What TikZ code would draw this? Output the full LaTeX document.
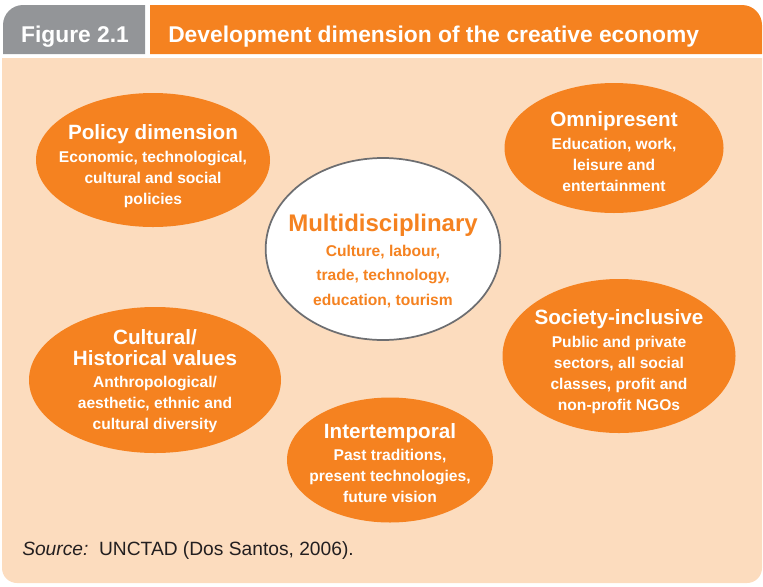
\documentclass[tikz,border=0pt]{standalone}
\usepackage{fontspec}
\setmainfont{Liberation Sans}
\usetikzlibrary{shapes.geometric}
\definecolor{unctadorange}{RGB}{245,130,32}
\definecolor{panelpeach}{RGB}{252,220,190}
\definecolor{tabgrey}{RGB}{147,149,152}
\definecolor{rimgrey}{RGB}{109,110,113}
\definecolor{sourceink}{RGB}{35,31,32}
\newcommand{\bubbletitle}{\fontsize{15.5}{15}\selectfont}
\newcommand{\bubblebody}{\fontsize{11.7}{15.75}\selectfont}
\tikzset{
  headtext/.style = {text=white, inner sep=0pt,
    font=\fontsize{17.1}{20}\selectfont\bfseries},
  bubble/.style = {ellipse, fill=unctadorange, inner sep=0pt},
  bubbletext/.style = {align=center, inner sep=0pt, text=white,
    font=\bubblebody\bfseries}}

\begin{document}
\begin{tikzpicture}[x=0.75pt, y=-0.75pt]
\useasboundingbox (0,0) rectangle (763,586);
% header tabs and panel
\fill[tabgrey] (3,54) -- (3,25) arc[start angle=180, end angle=270, radius=20]
  -- (145,5) -- (145,54) -- cycle;
\fill[unctadorange] (150,54) -- (150,5) -- (742,5)
  arc[start angle=270, end angle=360, radius=20] -- (762,54) -- cycle;
\fill[panelpeach] (2,58) -- (762,58) -- (762,568)
  arc[start angle=0, end angle=90, radius=15] -- (17,583)
  arc[start angle=90, end angle=180, radius=15] -- cycle;

\node[headtext] (fignum) at (75,37) {Figure 2.1};
\node[headtext, anchor=west] (figtitle) at (168,37)
  {Development dimension of the creative economy};

% bubbles
\node[bubble, minimum width=175.5pt, minimum height=100.5pt] (policy) at (153,160) {};
\node[bubble, minimum width=164.25pt, minimum height=97.5pt] (omni) at (614,148) {};
\node[bubble, fill=white, draw=rimgrey, line width=1.3pt,
  minimum width=176pt, minimum height=136.5pt] (multi) at (383,249) {};
\node[bubble, minimum width=174.75pt, minimum height=115.5pt] (society) at (619,356) {};
\node[bubble, minimum width=189pt, minimum height=109.5pt] (cultural) at (155,380) {};
\node[bubble, minimum width=154.5pt, minimum height=93.75pt] (intertemp) at (390,460) {};

\node[bubbletext, yshift=-4.5pt] (policy text) at (policy)
  {{\bubbletitle Policy dimension}\\[1.5pt]Economic, technological,\\cultural and social\\policies};
\node[bubbletext, yshift=-3pt] (omni text) at (omni)
  {{\bubbletitle Omnipresent}\\[1.5pt]Education, work,\\leisure and\\entertainment};
\node[bubbletext, text=unctadorange, yshift=-9pt] (multi text) at (multi)
  {{\fontsize{18}{18}\selectfont Multidisciplinary}\\[3pt]Culture, labour,\\[2.5pt]trade, technology,\\[2.5pt]education, tourism};
\node[bubbletext, yshift=-4.5pt] (society text) at (society)
  {{\bubbletitle Society-inclusive}\\[1.5pt]Public and private\\sectors, all social\\classes, profit and\\non-profit NGOs};
\node[bubbletext, yshift=-0.75pt] (cultural text) at (cultural)
  {{\bubbletitle Cultural/}\\{\bubbletitle Historical values}\\[0.75pt]Anthropological/\\aesthetic, ethnic and\\cultural diversity};
\node[bubbletext, yshift=-2.25pt] (intertemp text) at (intertemp)
  {{\bubbletitle Intertemporal}\\[0.75pt]Past traditions,\\present technologies,\\future vision};

\node[anchor=west, inner sep=0pt, text=sourceink, font=\fontsize{14.4}{16}\selectfont]
  (source) at (22,551) {\textit{Source:}\ \ UNCTAD (Dos Santos, 2006).};
\end{tikzpicture}
\end{document}
